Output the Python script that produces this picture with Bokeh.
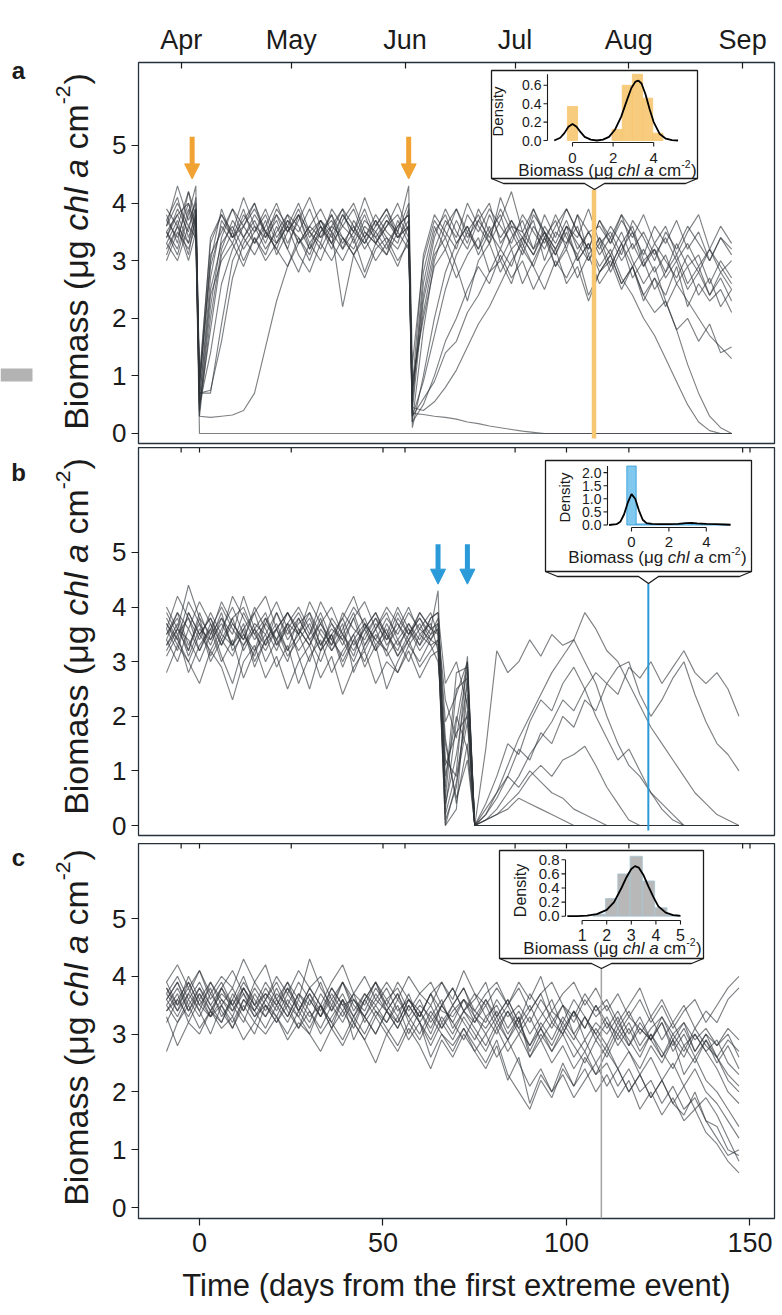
from math import pi
from bokeh.plotting import figure
from bokeh.models import Range1d, FixedTicker, Label, Arrow, NormalHead
from bokeh.layouts import column, row
from bokeh.embed import file_html
from bokeh.resources import INLINE

# ---------------- data ----------------
MONTH_NAMES = ["Apr", "May", "Jun", "Jul", "Aug", "Sep"]
MONTH_DAYS = [-5, 25, 56, 86, 117, 148]
DAY_TICKS = [0, 50, 100, 150]
BIOMASS_TICKS = [0, 1, 2, 3, 4, 5]

ARROW_DAYS_A = [-2, 57]
ARROW_DAYS_B = [65, 73]
SAMPLE_DAY_A = 107.5
SAMPLE_DAY_B = 122.3
SAMPLE_DAY_C = 109.5

# panel a: two extreme events (day 0 and day 58)
DAYS_A = [-9, -6, -3, -1, 0, 3, 6, 9, 12, 15, 18, 21, 24, 27, 30, 33, 36, 39, 42, 45,
          48, 51, 54, 57, 58, 61, 64, 67, 70, 73, 76, 79, 82, 85, 88, 91, 94, 97, 100,
          103, 106, 109, 112, 115, 118, 121, 124, 127, 130, 133, 136, 139, 142, 145]
A01 = [3.4, 3.9, 3.5, 4.1,
       0.9, 2.9, 3.6, 3.3, 3.8, 3.5, 3.9, 3.4, 3.7, 3.3, 3.6, 3.9, 3.5, 3.2, 3.7, 3.4, 3.8, 3.5, 3.3, 3.9,
       0.5,
       2.6, 3.5, 3.8, 3.3, 3.6, 3.1, 3.5, 3.8, 3.2, 3.4, 3.7, 3.0, 3.5, 3.3, 3.8, 3.1, 3.4, 2.9, 3.3, 3.6,
       3.0, 3.2, 2.8, 3.3, 2.9, 3.1, 2.6, 3.0, 2.7]
A02 = [3.8, 3.3, 4.2, 3.6,
       0.4, 2.2, 3.4, 3.9, 3.6, 4.0, 3.4, 3.7, 3.2, 3.8, 3.5, 3.3, 3.9, 3.6, 3.4, 3.8, 3.3, 3.6, 4.0, 3.5,
       0.2,
       1.8, 3.0, 3.6, 3.9, 3.4, 3.7, 4.0, 3.3, 3.6, 3.2, 3.8, 3.5, 3.1, 3.6, 3.4, 3.9, 3.3, 3.5, 3.1, 3.7,
       3.4, 3.0, 3.5, 3.2, 3.6, 3.3, 3.0, 3.4, 3.1]
A03 = [3.0, 3.5, 3.2, 3.6,
       0.7, 0.7, 1.9, 3.0, 3.4, 3.1, 3.5, 3.2, 2.9, 3.4, 3.1, 3.6, 3.3, 3.0, 3.4, 2.8, 3.3, 3.1, 3.5, 3.2,
       0.9,
       2.0, 2.9, 3.2, 2.7, 3.1, 3.4, 2.8, 3.0, 2.6, 3.2, 2.9, 2.5, 3.0, 2.7, 3.1, 2.4, 2.8, 3.0, 2.5, 2.9,
       2.3, 2.7, 2.4, 2.9, 2.2, 2.6, 2.3, 2.5, 2.1]
A04 = [3.6, 4.3, 3.7, 4.0,
       1.0, 3.3, 3.8, 3.5, 4.1, 3.6, 3.4, 3.9, 3.6, 4.0, 3.5, 3.7, 3.4, 3.8, 3.5, 4.1, 3.6, 3.9, 3.5, 4.3,
       1.2,
       3.0, 3.7, 3.4, 3.9, 3.5, 3.8, 3.3, 4.1, 3.6, 3.5, 3.9, 3.4, 3.7, 3.2, 3.8, 3.5, 3.6, 3.3, 3.7, 3.4,
       3.8, 3.3, 3.6, 3.1, 3.5, 3.8, 3.2, 3.6, 3.3]
A05 = [3.3, 3.7, 3.1, 3.8,
       0.6, 2.5, 3.3, 3.6, 3.2, 3.5, 3.8, 3.3, 3.6, 3.4, 3.0, 3.5, 3.7, 3.3, 3.6, 3.2, 3.5, 3.8, 3.4, 3.6,
       0.3,
       0.6, 0.9, 1.4, 1.6, 2.1, 2.4, 2.8, 3.2, 2.9, 3.4, 3.1, 3.5, 3.2, 3.6, 3.0, 3.3, 2.8, 3.1, 2.6, 2.9,
       2.4, 2.1, 2.3, 1.8, 2.0, 1.6, 1.9, 1.4, 1.5]
A06 = [3.5, 3.2, 3.9, 3.4,
       0, 0, 0, 0, 0, 0, 0, 0, 0, 0, 0, 0, 0, 0, 0, 0, 0, 0, 0, 0,
       0,
       0, 0, 0, 0, 0, 0, 0, 0, 0, 0, 0, 0, 0, 0, 0, 0, 0, 0, 0, 0,
       0, 0, 0, 0, 0, 0, 0, 0, 0]
A07 = [3.7, 3.4, 4.0, 3.5,
       0.3, 0.28, 0.3, 0.32, 0.4, 0.7, 1.5, 2.3, 2.9, 3.3, 3.5, 3.2, 3.6, 3.4, 3.1, 3.5, 3.3, 3.7, 3.4, 3.6,
       0.35,
       0.33, 0.3, 0.28, 0.25, 0.2, 0.17, 0.13, 0.1, 0.07, 0.04, 0.02, 0, 0, 0, 0, 0, 0, 0, 0, 0,
       0, 0, 0, 0, 0, 0, 0, 0, 0]
A08 = [3.4, 3.8, 3.3, 3.7,
       0.7, 0.75, 1.6, 2.7, 3.3, 3.6, 3.2, 3.5, 3.8, 3.3, 3.6, 3.4, 3.8, 3.2, 3.5, 3.3, 3.7, 3.4, 3.2, 3.6,
       0.45,
       0.4, 0.55, 0.8, 1.1, 1.5, 1.9, 2.2, 2.6, 3.0, 3.3, 2.9, 3.4, 3.1, 3.5, 3.0, 3.3, 2.9, 3.2, 2.7, 2.4,
       2.0, 1.7, 1.3, 0.9, 0.5, 0.2, 0.05, 0.0, 0.0]
A09 = [3.9, 3.6, 4.2, 3.8,
       0.8, 3.0, 3.9, 3.4, 3.7, 4.0, 3.5, 3.8, 3.3, 3.7, 4.1, 3.6, 3.3, 3.8, 3.5, 3.9, 3.4, 3.7, 3.5, 4.0,
       0.7,
       2.4, 3.4, 3.9, 3.5, 3.2, 3.7, 3.4, 3.9, 3.5, 3.1, 3.6, 3.3, 3.8, 3.4, 3.1, 3.5, 3.2, 3.6, 3.3, 2.9,
       3.2, 2.8, 3.1, 2.6, 2.3, 2.0, 1.7, 1.5, 1.3]
A10 = [3.2, 3.6, 3.0, 3.5,
       0.5, 1.8, 3.1, 3.5, 3.0, 3.4, 3.1, 3.6, 3.2, 2.8, 3.3, 3.0, 3.5, 2.2, 3.1, 3.4, 3.0, 3.3, 2.9, 3.4,
       0.8,
       2.1, 3.1, 3.4, 2.9, 2.3, 3.0, 3.3, 2.8, 3.2, 2.6, 3.0, 3.4, 2.9, 3.2, 2.7, 3.1, 2.6, 2.9, 3.3, 2.7,
       3.0, 2.5, 2.8, 3.1, 2.6, 2.9, 2.4, 2.8, 2.5]
A11 = [3.6, 4.0, 3.6, 3.9,
       0.3, 2.0, 3.2, 3.7, 3.4, 3.8, 3.5, 3.2, 3.7, 3.5, 3.9, 3.4, 3.6, 3.9, 3.3, 3.7, 3.5, 3.2, 3.6, 3.8,
       0.1,
       1.0, 2.0, 2.8, 3.3, 3.6, 3.2, 3.8, 3.4, 3.7, 3.3, 3.9, 3.5, 3.2, 3.6, 3.3, 3.0, 3.4, 3.1, 3.5, 3.0,
       2.6, 2.9, 2.3, 1.8, 1.2, 0.7, 0.3, 0.1, 0.0]
A12 = [3.5, 3.1, 3.8, 4.3,
       0.6, 2.7, 3.7, 3.4, 3.9, 3.3, 3.6, 4.0, 3.5, 3.8, 3.3, 3.6, 3.2, 3.7, 4.0, 3.5, 3.3, 3.6, 3.8, 3.4,
       0.4,
       2.3, 3.2, 3.7, 3.4, 4.0, 3.6, 3.3, 3.7, 4.2, 3.5, 3.2, 3.8, 3.4, 3.9, 3.5, 3.2, 3.7, 3.3, 3.8, 3.5,
       3.1, 3.6, 3.3, 3.7, 3.2, 3.5, 3.0, 3.4, 3.2]
A13 = [3.7, 4.1, 3.4, 3.8,
       0.8, 3.1, 3.5, 3.9, 3.4, 3.7, 3.3, 3.8, 3.5, 3.9, 3.4, 3.7, 3.3, 3.6, 3.9, 3.4, 3.7, 3.3, 3.6, 3.8,
       0.6,
       2.8, 3.6, 3.2, 3.7, 3.3, 3.9, 3.5, 3.2, 3.7, 3.4, 3.1, 3.6, 3.3, 3.7, 3.2, 3.5, 3.1, 3.4, 3.0, 3.3,
       2.9, 3.3, 3.0, 2.7, 3.1, 2.8, 3.2, 2.9, 2.6]
A14 = [3.1, 3.6, 3.3, 3.9,
       0.5, 1.4, 2.6, 3.2, 3.6, 3.3, 3.7, 3.1, 3.5, 3.8, 3.2, 3.5, 3.8, 3.4, 3.2, 3.6, 3.4, 3.1, 3.7, 3.3,
       0.3,
       0.9, 1.7, 2.5, 3.1, 3.5, 3.2, 3.6, 3.0, 3.4, 3.7, 3.2, 3.5, 2.9, 3.3, 3.6, 3.0, 3.3, 2.8, 3.2, 3.5,
       2.9, 3.2, 2.7, 3.0, 2.5, 2.8, 2.4, 2.7, 2.3]
A15 = [3.5, 3.8, 4.0, 3.6,
       0.9, 3.4, 3.8, 3.4, 3.6, 3.9, 3.5, 3.3, 3.8, 3.6, 3.2, 3.7, 3.5, 3.9, 3.6, 3.3, 3.6, 3.9, 3.4, 3.7,
       0.8,
       3.1, 3.8, 3.5, 3.2, 3.8, 3.5, 3.9, 3.6, 3.3, 3.8, 3.5, 3.2, 3.6, 3.9, 3.5, 3.2, 3.7, 3.4, 3.8, 3.2,
       3.5, 3.1, 3.4, 3.0, 3.3, 2.9, 3.2, 2.8, 3.0]
A16 = [3.3, 3.0, 3.6, 3.4,
       0.4, 2.4, 3.0, 3.3, 2.9, 3.4, 3.0, 3.3, 3.6, 3.1, 2.8, 3.3, 3.0, 3.4, 3.1, 2.7, 3.2, 3.4, 3.0, 3.3,
       0.2,
       0.5, 1.0, 1.6, 2.0, 2.5, 2.9, 2.6, 3.1, 2.7, 3.0, 2.5, 2.9, 3.2, 2.6, 2.9, 2.3, 2.8, 3.1, 2.6, 2.9,
       2.4, 2.7, 2.2, 2.6, 2.9, 2.4, 2.7, 2.2, 2.5]
LINES_A = [A01, A02, A03, A04, A05, A06, A07, A08, A09, A10, A11, A12, A13, A14, A15, A16]

# panel b: two events close together (day 66 and day 74)
DAYS_B = [-9, -6, -3, 0, 3, 6, 9, 12, 15, 18, 21, 24, 27, 30, 33, 36, 39, 42, 45, 48,
          51, 54, 57, 60, 63, 65, 67, 70, 73, 75, 78, 81, 84, 87, 90, 93, 96, 99, 102,
          105, 108, 111, 114, 117, 120, 123, 126, 129, 132, 135, 138, 141, 144, 147]
B01 = [3.6, 3.2, 3.9, 3.5, 3.8, 3.3, 3.7, 3.4, 4.0, 3.6, 3.2, 3.7, 3.5, 3.9, 3.3, 3.6, 3.4, 3.8, 3.2, 3.6,
       3.9, 3.4, 3.7, 3.3, 3.6,
       3.7, 1.9, 2.4, 3.0, 0.0,
       1.4, 3.2, 2.8, 3.0, 3.4, 3.1, 3.5, 3.3, 3.4, 3.0, 2.6, 2.0, 1.5, 1.1, 0.9, 0.6, 0.4, 0.2, 0.0, 0.0,
       0, 0, 0, 0]
B02 = [3.3, 3.7, 3.1, 3.6, 3.4, 3.9, 3.2, 3.5, 3.1, 3.7, 3.4, 3.0, 3.6, 3.3, 3.8, 3.2, 3.5, 3.1, 3.7, 3.4,
       3.2, 3.8, 3.5, 3.9, 3.6,
       4.3, 0.4, 1.3, 2.6, 0.0,
       0.2, 0.6, 1.1, 1.6, 2.0, 2.4, 2.8, 3.1, 3.4, 3.9, 3.6, 3.2, 3.0, 2.6, 2.2, 1.8, 1.5, 1.2, 0.9, 0.6,
       0.4, 0.2, 0.1, 0.0]
B03 = [3.8, 3.4, 4.1, 3.7, 3.3, 3.8, 3.5, 4.2, 3.6, 3.3, 3.9, 3.5, 3.8, 3.4, 3.7, 3.3, 3.9, 3.6, 3.4, 3.8,
       3.5, 3.2, 3.7, 3.4, 3.8,
       3.9, 1.2, 0.9, 2.1, 0.0,
       0.1, 0.3, 0.6, 0.9, 1.3, 1.6, 1.9, 2.3, 2.1, 2.5, 2.8, 2.6, 2.9, 3.0, 2.4, 2.0, 2.3, 2.7, 3.0, 2.4,
       1.9, 1.5, 1.3, 1.0]
B04 = [3.5, 3.9, 3.3, 3.7, 3.0, 3.4, 3.8, 3.2, 3.6, 3.9, 3.3, 3.6, 3.2, 3.5, 3.9, 3.4, 3.1, 3.5, 3.8, 3.3,
       3.6, 3.1, 3.5, 3.8, 3.4,
       3.6, 2.3, 1.6, 2.9, 0.0,
       0.2, 0.5, 0.9, 1.4, 1.2, 1.7, 1.5, 2.0, 1.8, 2.3, 2.1, 2.6, 2.4, 2.9, 2.7, 3.0, 2.6, 2.9, 3.2, 2.8,
       2.6, 2.8, 2.5, 2.0]
B05 = [3.4, 3.0, 3.6, 3.2, 3.7, 3.1, 2.6, 3.3, 3.6, 3.0, 3.4, 3.7, 3.1, 2.5, 3.2, 3.5, 2.9, 3.4, 3.0, 3.5,
       3.2, 2.8, 3.3, 3.0, 3.4,
       3.3, 0.0, 0.8, 1.9, 0.0,
       0.1, 0.2, 0.4, 0.6, 0.9, 1.1, 0.9, 1.2, 1.3, 1.45, 1.1, 0.7, 0.4, 0.1, 0, 0, 0, 0, 0, 0,
       0, 0, 0, 0]
B06 = [3.7, 3.3, 3.9, 3.5, 3.2, 3.6, 4.0, 3.5, 3.2, 3.8, 3.4, 3.9, 3.6, 3.3, 3.7, 4.0, 3.5, 3.2, 3.6, 3.9,
       3.4, 3.7, 3.3, 3.6, 3.9,
       3.5, 0.9, 2.0, 1.4, 0.0,
       0.3, 0.6, 0.9, 0.7, 1.0, 0.8, 0.6, 0.5, 0.3, 0.2, 0.1, 0, 0, 0, 0, 0, 0, 0, 0, 0,
       0, 0, 0, 0]
B07 = [3.1, 3.5, 2.8, 3.3, 3.6, 3.0, 3.4, 2.7, 3.2, 3.5, 2.9, 3.3, 2.6, 3.1, 3.4, 2.8, 3.2, 3.5, 2.9, 3.3,
       2.5, 3.0, 3.4, 2.9, 3.2,
       3.4, 0.2, 1.0, 3.1, 0.0,
       0, 0, 0, 0, 0, 0, 0, 0, 0, 0, 0, 0, 0, 0, 0, 0, 0, 0, 0, 0,
       0, 0, 0, 0]
B08 = [4.0, 3.6, 4.4, 3.8, 3.5, 4.1, 3.7, 3.4, 3.9, 4.2, 3.6, 3.9, 3.5, 4.1, 3.7, 3.4, 3.8, 4.2, 3.6, 3.9,
       3.5, 4.0, 3.6, 3.3, 3.8,
       3.9, 2.6, 3.0, 2.2, 0.0,
       0, 0, 0, 0, 0, 0, 0, 0, 0, 0, 0, 0, 0, 0, 0, 0, 0, 0, 0, 0,
       0, 0, 0, 0]
B09 = [3.5, 3.8, 3.2, 3.9, 3.4, 3.7, 3.3, 3.9, 3.5, 3.2, 3.6, 3.9, 3.5, 3.8, 3.3, 3.7, 3.4, 3.0, 3.5, 3.8,
       3.3, 3.6, 4.0, 3.5, 3.7,
       3.2, 0.5, 2.5, 2.7, 0.0,
       0, 0, 0, 0, 0, 0, 0, 0, 0, 0, 0, 0, 0, 0, 0, 0, 0, 0, 0, 0,
       0, 0, 0, 0]
B10 = [3.2, 3.6, 3.4, 3.0, 3.5, 3.8, 3.3, 3.6, 2.9, 3.4, 3.7, 3.2, 3.5, 3.0, 3.6, 3.3, 3.7, 2.8, 3.3, 3.6,
       3.1, 3.4, 3.0, 3.5, 3.3,
       3.0, 1.5, 0.5, 1.2, 0.0,
       0.4, 0.9, 1.5, 1.3, 1.9, 2.3, 2.1, 2.6, 2.9, 2.5, 2.0, 1.6, 1.2, 1.4, 1.0, 0.6, 0.3, 0.1, 0, 0,
       0, 0, 0, 0]
B11 = [3.6, 4.2, 3.8, 3.4, 3.9, 3.5, 4.2, 3.8, 3.4, 3.7, 4.1, 3.6, 3.9, 3.5, 4.1, 3.7, 3.3, 3.8, 4.1, 3.6,
       4.0, 3.7, 3.4, 3.9, 3.6,
       3.5, 0.1, 0.7, 2.4, 0.0,
       0, 0, 0, 0, 0, 0, 0, 0, 0, 0, 0, 0, 0, 0, 0, 0, 0, 0, 0, 0,
       0, 0, 0, 0]
B12 = [2.8, 3.3, 3.0, 2.6, 3.2, 2.9, 2.3, 3.0, 3.3, 2.7, 3.1, 2.5, 3.0, 3.3, 2.7, 3.1, 2.4, 2.9, 3.2, 2.6,
       3.0, 2.8, 3.2, 2.7, 3.1,
       3.2, 1.1, 1.7, 2.0, 0.0,
       0, 0, 0, 0, 0, 0, 0, 0, 0, 0, 0, 0, 0, 0, 0, 0, 0, 0, 0, 0,
       0, 0, 0, 0]
B13 = [3.4, 3.9, 3.6, 4.1, 3.7, 3.3, 3.8, 4.0, 3.5, 3.8, 3.3, 3.7, 4.0, 3.6, 3.2, 3.8, 3.5, 3.9, 3.3, 3.7,
       3.4, 3.9, 3.5, 3.8, 3.5,
       3.8, 0.3, 1.9, 3.0, 0.0,
       0, 0, 0, 0, 0, 0, 0, 0, 0, 0, 0, 0, 0, 0, 0, 0, 0, 0, 0, 0,
       0, 0, 0, 0]
B14 = [3.7, 3.4, 3.0, 3.5, 3.8, 3.4, 3.1, 3.6, 3.9, 3.3, 3.6, 3.2, 3.8, 3.4, 3.0, 3.5, 3.8, 3.3, 3.6, 3.2,
       3.7, 3.3, 3.6, 3.2, 3.5,
       3.6, 0.7, 2.8, 2.9, 0.0,
       0, 0, 0, 0, 0, 0, 0, 0, 0, 0, 0, 0, 0, 0, 0, 0, 0, 0, 0, 0,
       0, 0, 0, 0]
B15 = [3.9, 3.5, 3.8, 3.2, 3.6, 4.0, 3.6, 3.3, 3.7, 3.5, 3.9, 3.4, 3.7, 3.9, 3.5, 3.2, 3.6, 4.0, 3.7, 3.4,
       3.8, 3.5, 3.9, 3.6, 3.4,
       3.7, 1.6, 0.4, 1.5, 0.0,
       0.1, 0.2, 0.3, 0.5, 0.4, 0.3, 0.2, 0.1, 0, 0, 0, 0, 0, 0, 0, 0, 0, 0, 0, 0,
       0, 0, 0, 0]
B16 = [3.3, 3.6, 3.2, 3.8, 3.1, 3.5, 3.3, 3.7, 3.0, 3.4, 3.6, 3.1, 3.4, 3.7, 3.2, 3.5, 3.0, 3.4, 3.7, 3.2,
       3.5, 3.1, 3.4, 3.7, 3.3,
       3.4, 0.0, 0.3, 2.8, 0.0,
       0, 0, 0, 0, 0, 0, 0, 0, 0, 0, 0, 0, 0, 0, 0, 0, 0, 0, 0, 0,
       0, 0, 0, 0]
LINES_B = [B01, B02, B03, B04, B05, B06, B07, B08, B09, B10, B11, B12, B13, B14, B15, B16]

# panel c: no extreme event
DAYS_C = [-9, -6, -3, 0, 3, 6, 9, 12, 15, 18, 21, 24, 27, 30, 33, 36, 39, 42, 45, 48,
          51, 54, 57, 60, 63, 66, 69, 72, 75, 78, 81, 84, 87, 90, 93, 96, 99, 102, 105, 108,
          111, 114, 117, 120, 123, 126, 129, 132, 135, 138, 141, 144, 147]
C01 = [3.7, 3.4, 3.9, 3.5, 3.8, 3.3, 3.6, 4.0, 3.5, 3.7, 3.4, 3.8, 3.5, 3.2, 3.7, 3.4, 3.9, 3.5, 3.3, 3.6,
       3.4, 3.7, 3.2, 3.5, 3.3, 3.6, 3.1, 3.4, 3.7, 3.3, 3.5, 3.1, 3.4, 3.0, 3.3, 3.6, 3.1, 3.4, 2.9, 3.2,
       3.0, 3.3, 2.8, 3.1, 2.9, 3.2, 2.7, 3.0, 2.6, 2.9, 2.5, 2.8, 2.4]
C02 = [3.9, 4.2, 3.8, 4.1, 3.7, 4.0, 3.8, 4.3, 3.9, 3.6, 4.0, 3.7, 4.1, 3.8, 3.5, 3.9, 4.2, 3.7, 4.0, 3.6,
       3.9, 3.6, 4.0, 3.7, 3.5, 3.9, 3.6, 4.1, 3.7, 3.5, 3.8, 3.5, 3.9, 3.6, 4.0, 3.4, 3.7, 3.9, 3.5, 3.8,
       3.4, 3.7, 3.3, 3.6, 3.2, 3.5, 3.1, 3.4, 3.6, 3.2, 3.5, 3.8, 4.0]
C03 = [3.3, 2.8, 3.2, 3.0, 3.4, 3.1, 3.3, 2.9, 3.2, 3.0, 3.3, 2.9, 3.2, 3.0, 2.7, 3.1, 2.8, 3.2, 2.9, 2.5,
       3.0, 2.7, 3.1, 2.8, 2.4, 2.9, 2.6, 3.0, 2.7, 2.4, 2.8, 2.2, 2.6, 1.8, 2.3, 2.0, 2.5, 2.1, 2.4, 2.0,
       2.3, 1.9, 2.2, 1.7, 2.0, 1.6, 1.9, 1.5, 1.7, 1.3, 1.1, 0.8, 0.6]
C04 = [3.6, 3.9, 3.5, 3.8, 3.4, 3.7, 3.5, 3.9, 3.6, 3.3, 3.7, 3.5, 3.9, 3.6, 3.3, 3.8, 3.5, 3.2, 3.6, 3.9,
       3.5, 3.2, 3.6, 3.4, 3.0, 3.5, 3.2, 3.6, 3.3, 3.1, 3.4, 3.0, 3.3, 2.7, 3.1, 2.8, 3.2, 2.9, 3.3, 3.0,
       2.7, 3.1, 2.8, 3.2, 2.9, 2.6, 3.0, 2.7, 3.1, 2.8, 2.6, 2.9, 2.7]
C05 = [3.4, 3.7, 3.2, 3.6, 3.3, 3.5, 3.1, 3.6, 3.3, 3.5, 3.2, 3.6, 3.3, 3.0, 3.5, 3.2, 3.6, 2.9, 3.3, 3.0,
       3.4, 3.1, 3.5, 3.2, 2.9, 3.3, 3.0, 3.4, 3.1, 2.8, 3.2, 2.9, 3.3, 2.6, 3.0, 2.7, 3.1, 2.8, 2.5, 2.9,
       2.6, 3.0, 2.7, 2.4, 2.8, 2.5, 2.9, 2.3, 2.6, 2.2, 2.0, 1.7, 1.4]
C06 = [3.8, 3.5, 4.0, 3.6, 3.9, 3.5, 3.8, 3.4, 3.9, 4.2, 3.6, 3.9, 3.4, 3.8, 4.0, 3.6, 3.3, 3.7, 3.5, 3.9,
       3.6, 3.8, 3.4, 3.7, 3.9, 3.5, 3.8, 3.4, 3.6, 3.9, 3.3, 3.6, 3.2, 3.7, 3.4, 3.1, 3.5, 3.2, 3.6, 3.3,
       3.5, 3.1, 3.4, 3.0, 3.3, 2.9, 3.2, 2.8, 3.0, 2.7, 2.9, 2.5, 2.3]
C07 = [3.5, 3.2, 3.6, 3.3, 3.7, 3.4, 3.1, 3.5, 3.2, 3.6, 3.3, 3.0, 3.4, 3.1, 3.5, 3.2, 2.9, 3.3, 3.0, 3.4,
       3.1, 2.8, 3.2, 2.9, 3.3, 3.0, 2.7, 3.1, 2.8, 2.5, 2.9, 2.3, 2.0, 1.7, 2.2, 1.9, 2.4, 2.1, 2.6, 2.3,
       2.7, 2.4, 2.0, 2.3, 1.9, 2.2, 1.8, 1.6, 2.0, 1.5, 1.2, 0.9, 1.0]
C08 = [3.7, 4.0, 3.6, 3.9, 3.5, 3.8, 4.1, 3.7, 3.4, 3.8, 3.5, 3.9, 3.6, 4.3, 3.8, 3.5, 3.9, 3.6, 3.4, 3.8,
       3.5, 3.9, 3.6, 3.3, 3.7, 3.9, 3.5, 3.8, 3.4, 3.7, 3.9, 3.5, 3.8, 3.4, 3.7, 3.9, 3.5, 3.3, 3.7, 3.4,
       3.6, 3.2, 3.5, 3.8, 3.3, 3.6, 3.2, 3.5, 3.1, 3.4, 3.2, 3.6, 3.8]
C09 = [3.6, 3.3, 3.7, 3.4, 3.0, 3.5, 3.2, 3.6, 3.4, 3.1, 3.5, 3.2, 3.6, 3.3, 3.5, 3.1, 3.4, 3.7, 3.2, 3.5,
       3.2, 3.5, 3.0, 3.4, 3.1, 3.5, 3.2, 2.9, 3.3, 3.0, 3.3, 2.9, 3.2, 2.8, 3.1, 2.7, 3.0, 2.6, 2.9, 2.5,
       2.8, 2.4, 2.7, 2.3, 2.6, 2.2, 2.5, 2.1, 2.4, 2.0, 1.8, 1.5, 1.2]
C10 = [3.2, 3.6, 3.3, 3.7, 3.4, 3.8, 3.5, 3.2, 3.7, 3.4, 3.8, 3.4, 3.1, 3.6, 3.3, 3.7, 3.4, 3.1, 3.6, 3.3,
       3.6, 3.3, 3.7, 3.2, 3.5, 3.1, 3.4, 3.6, 3.2, 3.5, 3.1, 3.4, 3.0, 3.3, 2.9, 3.2, 3.5, 3.0, 3.3, 2.9,
       3.2, 2.8, 3.1, 2.7, 3.0, 2.6, 2.9, 3.2, 2.7, 3.0, 2.6, 2.2, 2.0]
C11 = [3.5, 3.8, 3.4, 3.7, 3.3, 3.6, 3.4, 3.8, 3.5, 3.3, 3.6, 3.3, 3.7, 3.4, 3.1, 3.5, 3.2, 3.6, 3.3, 3.0,
       3.4, 3.1, 3.5, 3.2, 2.8, 3.2, 2.9, 3.3, 3.0, 2.7, 3.1, 2.7, 3.0, 2.6, 2.9, 2.5, 2.8, 2.4, 2.7, 2.3,
       2.5, 2.1, 2.4, 2.0, 2.2, 1.8, 2.1, 1.7, 1.9, 1.5, 1.4, 1.0, 0.9]
C12 = [3.9, 3.5, 3.8, 3.4, 3.9, 3.6, 3.3, 3.8, 3.5, 3.9, 3.6, 3.3, 3.7, 3.5, 3.9, 3.4, 3.7, 3.3, 3.6, 3.9,
       3.4, 3.7, 3.3, 3.6, 3.2, 3.5, 3.8, 3.4, 3.2, 3.6, 3.2, 3.5, 3.1, 3.4, 3.7, 3.2, 3.0, 3.4, 3.1, 3.5,
       3.1, 3.4, 3.0, 3.3, 2.9, 3.2, 2.8, 3.1, 2.7, 3.0, 2.8, 3.1, 2.9]
C13 = [3.6, 3.9, 3.4, 3.8, 3.5, 3.2, 3.7, 3.4, 3.8, 3.5, 3.3, 3.7, 3.4, 3.8, 3.5, 3.1, 3.6, 3.3, 3.7, 3.4,
       3.2, 3.6, 3.3, 3.0, 3.4, 3.1, 3.5, 3.2, 2.9, 3.3, 3.0, 3.4, 3.1, 2.8, 3.2, 2.9, 3.3, 3.0, 2.7, 3.1,
       2.8, 3.2, 2.9, 2.6, 3.0, 2.7, 2.4, 2.8, 2.5, 2.9, 2.6, 2.3, 2.1]
C14 = [3.4, 3.6, 3.9, 3.5, 3.3, 3.8, 3.4, 3.7, 3.3, 3.6, 3.9, 3.5, 3.3, 3.7, 3.4, 3.8, 3.5, 3.6, 3.3, 3.7,
       3.4, 3.2, 3.6, 3.3, 3.7, 3.4, 3.3, 3.6, 3.4, 3.2, 3.6, 3.3, 3.5, 3.2, 3.6, 3.3, 3.0, 3.4, 3.1, 3.5,
       3.2, 3.0, 3.3, 3.1, 2.9, 3.3, 3.0, 3.2, 2.9, 3.1, 2.8, 3.0, 2.6]
C15 = [3.8, 3.4, 3.7, 4.1, 3.6, 3.9, 3.5, 3.8, 3.4, 3.7, 3.5, 3.8, 3.4, 3.7, 3.3, 3.6, 3.9, 3.4, 3.7, 3.5,
       3.8, 3.4, 3.6, 3.3, 3.7, 3.2, 3.5, 3.8, 3.3, 3.6, 3.3, 3.6, 3.2, 3.5, 3.1, 3.4, 3.2, 3.6, 3.3, 3.0,
       3.3, 2.9, 3.2, 2.8, 3.1, 3.3, 2.9, 2.6, 3.0, 2.7, 2.4, 2.0, 1.8]
C16 = [2.7, 3.2, 3.5, 3.1, 3.4, 3.2, 3.6, 3.3, 3.0, 3.5, 3.2, 3.5, 3.1, 3.4, 3.0, 3.3, 3.6, 3.2, 2.9, 3.3,
       3.0, 3.3, 2.9, 3.2, 2.6, 3.0, 2.8, 3.1, 2.7, 3.0, 2.6, 2.9, 2.5, 2.1, 2.4, 2.0, 2.3, 1.9, 2.2, 2.5,
       2.1, 2.4, 2.0, 2.3, 1.9, 2.2, 1.8, 2.1, 1.7, 1.9, 1.6, 1.2, 0.8]
LINES_C = [C01, C02, C03, C04, C05, C06, C07, C08, C09, C10, C11, C12, C13, C14, C15, C16]

# inset histograms (bin left edge, bin right edge, density) and density curves
HIST_A_LEFT = [-0.25, 1.95, 2.45, 2.95, 3.45, 3.95]
HIST_A_RIGHT = [0.25, 2.45, 2.95, 3.45, 3.95, 4.45]
HIST_A_DENS = [0.37, 0.12, 0.60, 0.72, 0.46, 0.08]
DENS_A_X = [-0.9, -0.6, -0.4, -0.2, 0.0, 0.2, 0.4, 0.6, 0.9, 1.2, 1.5, 1.8, 2.1, 2.4, 2.7, 2.9,
            3.1, 3.25, 3.4, 3.6, 3.8, 4.0, 4.3, 4.6, 4.9, 5.2]
DENS_A_Y = [0.0, 0.03, 0.08, 0.15, 0.18, 0.15, 0.09, 0.04, 0.01, 0.0, 0.01, 0.04, 0.12, 0.26, 0.45,
            0.57, 0.64, 0.65, 0.62, 0.5, 0.34, 0.2, 0.07, 0.02, 0.005, 0.0]

HIST_B_LEFT = [-0.25, 0.25, 0.75, 1.25, 1.75, 2.25, 2.75, 3.25, 3.75, 4.25, 4.75]
HIST_B_RIGHT = [0.25, 0.75, 1.25, 1.75, 2.25, 2.75, 3.25, 3.75, 4.25, 4.75, 5.25]
HIST_B_DENS = [2.25, 0.04, 0.02, 0.02, 0.02, 0.03, 0.06, 0.04, 0.03, 0.02, 0.01]
DENS_B_X = [-1.2, -0.8, -0.6, -0.4, -0.2, 0.0, 0.2, 0.4, 0.6, 0.8, 1.1, 1.5, 2.0, 2.5, 2.9, 3.2,
            3.5, 4.0, 4.5, 5.0, 5.3]
DENS_B_Y = [0.0, 0.03, 0.12, 0.4, 0.85, 1.18, 1.0, 0.55, 0.2, 0.07, 0.04, 0.03, 0.03, 0.04, 0.07,
            0.08, 0.06, 0.04, 0.03, 0.02, 0.01]

HIST_C_LEFT = [1.45, 1.95, 2.45, 2.95, 3.45, 3.95, 4.45]
HIST_C_RIGHT = [1.95, 2.45, 2.95, 3.45, 3.95, 4.45, 4.95]
HIST_C_DENS = [0.03, 0.25, 0.60, 0.85, 0.50, 0.12, 0.02]
DENS_C_X = [0.4, 0.8, 1.2, 1.6, 2.0, 2.3, 2.6, 2.8, 3.0, 3.15, 3.3, 3.5, 3.7, 3.9, 4.1, 4.4, 4.7, 5.0]
DENS_C_Y = [0.0, 0.002, 0.008, 0.03, 0.09, 0.2, 0.4, 0.55, 0.67, 0.71, 0.69, 0.58, 0.42, 0.27, 0.14,
            0.05, 0.015, 0.005]

INSET_A_YTICKS = [0.0, 0.2, 0.4, 0.6]
INSET_B_YTICKS = [0.0, 0.5, 1.0, 1.5, 2.0]
INSET_C_YTICKS = [0.0, 0.2, 0.4, 0.6, 0.8]
INSET_A_XTICKS = [0, 2, 4]
INSET_B_XTICKS = [0, 2, 4]
INSET_C_XTICKS = [1, 2, 3, 4, 5]

# ---------------- style / layout (page pixels) ----------------
FONT = "Liberation Sans"
INK = "#1b1b1b"
FRAME_COL = "#26313b"
LINE_COL = "#2f3439"
ORANGE = "#f0a232"
ORANGE_BAR = "#f6c670"
BLUE = "#2b9ad8"
BLUE_BAR = "#72c2ec"
GREY_BAR = "#b4b4b4"

GUTTER_W = 100
FRAME_LEFT = 138
FRAME_W = 636
X_START, X_END = -16.62, 156.68
TOTAL_H = 1308

PANEL_A = dict(top=62, h=381, y0=-0.174, y1=6.441, bt=62, bb=4, letter="a", letter_xy=(18, 70), ytitle_cy=251)
PANEL_B = dict(top=447, h=388, y0=-0.183, y1=6.923, bt=0, bb=8, letter="b", letter_xy=(18, 472), ytitle_cy=636)
PANEL_C = dict(top=843, h=375, y0=-0.19, y1=6.298, bt=0, bb=90, letter="c", letter_xy=(18, 857), ytitle_cy=1027)

INSET_A = dict(box=(491, 697, 70, 178), ox=572, sx=20.3, oy=140, sy=92.0, yax=547, ytop=0.72,
               xax_y=142, xspan=(0, 4), xlab_y=157, dens=(497, 111), title=(607, 170), tip=(594, 189),
               tick_fs=14, title_fs=17)
INSET_B = dict(box=(545, 751, 460, 571), ox=631, sx=18.7, oy=524.5, sy=26.2, yax=607, ytop=2.25,
               xax_y=527, xspan=(0, 4), xlab_y=541, dens=(564, 497), title=(657, 557), tip=(648, 583),
               tick_fs=14, title_fs=17)
INSET_C = dict(box=(499, 703, 850, 958), ox=557, sx=24.6, oy=915.7, sy=70.5, yax=565, ytop=0.8,
               xax_y=920, xspan=(1, 5), xlab_y=934, dens=(520, 890), title=(612, 948), tip=(601, 968),
               tick_fs=15, title_fs=17)

WIDTHS = {' ': 278, '(': 333, ')': 333, '-': 333, '.': 278, 'B': 667, 'a': 556, 'c': 500, 'g': 556,
          'h': 556, 'i': 222, 'l': 222, 'm': 833, 'o': 556, 's': 500, 'μ': 576}
TITLE_PIECES = [("Biomass (μg", "normal", 1.0, 0.0, 0.278),
                ("chl a", "italic", 1.0, 0.0, 0.278),
                ("cm", "normal", 1.0, 0.0, 0.0),
                ("-2", "normal", 0.62, 0.36, 0.03),
                (")", "normal", 1.0, 0.0, 0.0)]


def text_w(s, size):
    return sum(WIDTHS.get(ch, 556) for ch in s) / 1000.0 * size


def label(p, x, y, text, size, xr="fx", yr="fy", align="center", baseline="middle", angle=0.0,
          style="normal", color=INK):
    p.add_layout(Label(x=x, y=y, x_range_name=xr, y_range_name=yr, text=text, angle=angle,
                       text_font=FONT, text_font_size=f"{size:.1f}px", text_font_style=style,
                       text_align=align, text_baseline=baseline, text_color=color))


def rich_title(p, cx, cy, size, vertical, xr="fx", yr="fy"):
    total = sum(text_w(t, size * sc) + gap * size for t, st, sc, r, gap in TITLE_PIECES)
    pos = -total / 2.0
    for t, st, sc, r, gap in TITLE_PIECES:
        s = size * sc
        if vertical:
            label(p, cx - r * size, cy - pos, t, s, xr=xr, yr=yr, align="left", angle=pi / 2, style=st)
        else:
            label(p, cx + pos, cy - r * size, t, s, xr=xr, yr=yr, align="left", style=st)
        pos += text_w(t, s) + gap * size


# left gutter holding the panel letters and the y-axis titles (page coordinates)
gutter = figure(frame_width=GUTTER_W, frame_height=TOTAL_H, x_range=Range1d(0, GUTTER_W),
                y_range=Range1d(TOTAL_H, 0), x_axis_location=None, y_axis_location=None,
                min_border_left=0, min_border_right=0, min_border_top=0, min_border_bottom=0,
                toolbar_location=None, output_backend="svg", outline_line_color=None,
                background_fill_color="white", border_fill_color="white")
gutter.grid.visible = False
gutter.quad(left=[0], right=[32], top=[368], bottom=[381], fill_color="#b3b3b3", line_color=None)
for cfg in (PANEL_A, PANEL_B, PANEL_C):
    lx, ly = cfg["letter_xy"]
    label(gutter, lx, ly, cfg["letter"], 24, xr="default", yr="default", style="bold")
    rich_title(gutter, 75, cfg["ytitle_cy"], 34, True, xr="default", yr="default")


def make_panel(cfg, xloc, inset):
    top, h = cfg["top"], cfg["h"]
    p = figure(frame_width=FRAME_W, frame_height=h,
               x_range=Range1d(X_START, X_END), y_range=Range1d(cfg["y0"], cfg["y1"]),
               x_axis_location=xloc, y_axis_location="left",
               min_border_left=FRAME_LEFT - GUTTER_W, min_border_right=6,
               min_border_top=cfg["bt"], min_border_bottom=cfg["bb"],
               toolbar_location=None, output_backend="svg",
               background_fill_color="white", border_fill_color="white")
    p.grid.visible = False
    p.outline_line_color = FRAME_COL
    p.outline_line_width = 1.3
    ox = inset["ox"] - FRAME_LEFT
    oy = inset["oy"] - top
    p.extra_x_ranges = {"fx": Range1d(0, FRAME_W),
                        "ix": Range1d(-ox / inset["sx"], (FRAME_W - ox) / inset["sx"])}
    p.extra_y_ranges = {"fy": Range1d(h, 0),
                        "iy": Range1d((oy - h) / inset["sy"], oy / inset["sy"])}
    ya = p.yaxis[0]
    ya.ticker = FixedTicker(ticks=BIOMASS_TICKS)
    ya.minor_tick_line_color = None
    ya.major_tick_out = 7
    ya.major_tick_in = 0
    ya.major_tick_line_color = INK
    ya.major_tick_line_width = 1.2
    ya.axis_line_color = None
    ya.major_label_text_font = FONT
    ya.major_label_text_font_size = "26px"
    ya.major_label_text_color = INK
    ya.major_label_standoff = 5
    return p


def inner_ticks(p):
    ticks = sorted(MONTH_DAYS + DAY_TICKS)
    p.segment(x0=ticks, y0=[0] * len(ticks), x1=ticks, y1=[5] * len(ticks),
              y_range_name="fy", line_color=INK, line_width=1.2)


def draw_lines(p, days, lines):
    xs = [days[:len(v)] for v in lines]
    ys = [v[:len(days)] for v in lines]
    p.multi_line(xs=xs, ys=ys, line_color=LINE_COL, line_alpha=0.62, line_width=1.15)


def draw_inset(p, cfg, ins, hl, hr, hh, dx, dy, yticks, xticks, fill, edge, alpha, tip_bottom, vcol,
               vwidth, sample_day):
    top = cfg["top"]
    L, R, T, B = ins["box"]
    tx, ty = ins["tip"]
    p.segment(x0=[sample_day], y0=[tip_bottom - top], x1=[sample_day], y1=[ty - top],
              y_range_name="fy", line_color=vcol, line_width=vwidth)
    p.quad(left=[L - FRAME_LEFT], right=[R - FRAME_LEFT], top=[T - top], bottom=[B - top],
           x_range_name="fx", y_range_name="fy", fill_color="white", line_color=INK, line_width=1.3)
    bx = [L, L + 12, tx - 10, tx, tx + 10, R - 12, R]
    by = [B, B + 5, B + 5, ty, B + 5, B + 5, B]
    p.line([v - FRAME_LEFT for v in bx], [v - top for v in by], x_range_name="fx", y_range_name="fy",
           line_color=INK, line_width=1.3)
    p.quad(left=hl, right=hr, bottom=[0] * len(hh), top=hh, x_range_name="ix", y_range_name="iy",
           fill_color=fill, fill_alpha=alpha, line_color=edge, line_width=0.8)
    p.line(dx, dy, x_range_name="ix", y_range_name="iy", line_color="black", line_width=1.8)
    yax = ins["yax"] - FRAME_LEFT
    p.segment(x0=[yax], y0=[0], x1=[yax], y1=[ins["ytop"]], x_range_name="fx", y_range_name="iy",
              line_color=INK, line_width=1.1)
    p.segment(x0=[yax - 4] * len(yticks), y0=yticks, x1=[yax] * len(yticks), y1=yticks,
              x_range_name="fx", y_range_name="iy", line_color=INK, line_width=1.1)
    for t in yticks:
        label(p, yax - 6, t, f"{t:.1f}", ins["tick_fs"], xr="fx", yr="iy", align="right")
    xay = ins["xax_y"] - top
    p.segment(x0=[ins["xspan"][0]], y0=[xay], x1=[ins["xspan"][1]], y1=[xay],
              x_range_name="ix", y_range_name="fy", line_color=INK, line_width=1.1)
    p.segment(x0=xticks, y0=[xay] * len(xticks), x1=xticks, y1=[xay + 4] * len(xticks),
              x_range_name="ix", y_range_name="fy", line_color=INK, line_width=1.1)
    for t in xticks:
        label(p, t, ins["xlab_y"] - top, str(t), ins["tick_fs"] + 1, xr="ix", yr="fy")
    dxp, dyp = ins["dens"]
    label(p, dxp - FRAME_LEFT, dyp - top, "Density", ins["tick_fs"] + 1, angle=pi / 2)
    cx, cy = ins["title"]
    rich_title(p, cx - FRAME_LEFT, cy - top, ins["title_fs"], False)


def draw_arrows(p, days, color):
    for d in days:
        p.add_layout(Arrow(end=NormalHead(size=15, fill_color=color, line_color=color),
                           x_start=d, y_start=5.15, x_end=d, y_end=4.42,
                           line_color=color, line_width=5))


# ---- panel a ----
pa = make_panel(PANEL_A, "above", INSET_A)
xa = pa.xaxis[0]
xa.ticker = FixedTicker(ticks=MONTH_DAYS)
xa.major_label_overrides = {d: n for d, n in zip(MONTH_DAYS, MONTH_NAMES)}
xa.major_tick_in = 6
xa.major_tick_out = 0
xa.major_tick_line_color = INK
xa.major_tick_line_width = 1.2
xa.minor_tick_line_color = None
xa.axis_line_color = None
xa.major_label_text_font = FONT
xa.major_label_text_font_size = "27px"
xa.major_label_text_color = INK
xa.major_label_standoff = 8
draw_lines(pa, DAYS_A, LINES_A)
draw_inset(pa, PANEL_A, INSET_A, HIST_A_LEFT, HIST_A_RIGHT, HIST_A_DENS, DENS_A_X, DENS_A_Y,
           INSET_A_YTICKS, INSET_A_XTICKS, ORANGE_BAR, ORANGE_BAR, 0.9, 438, ORANGE_BAR, 4.5, SAMPLE_DAY_A)
draw_arrows(pa, ARROW_DAYS_A, ORANGE)

# ---- panel b ----
pb = make_panel(PANEL_B, None, INSET_B)
inner_ticks(pb)
draw_lines(pb, DAYS_B, LINES_B)
draw_inset(pb, PANEL_B, INSET_B, HIST_B_LEFT, HIST_B_RIGHT, HIST_B_DENS, DENS_B_X, DENS_B_Y,
           INSET_B_YTICKS, INSET_B_XTICKS, BLUE_BAR, BLUE, 0.9, 830, BLUE, 2.0, SAMPLE_DAY_B)
draw_arrows(pb, ARROW_DAYS_B, BLUE)

# ---- panel c ----
pc = make_panel(PANEL_C, "below", INSET_C)
inner_ticks(pc)
xc = pc.xaxis[0]
xc.ticker = FixedTicker(ticks=DAY_TICKS)
xc.major_tick_out = 7
xc.major_tick_in = 0
xc.major_tick_line_color = INK
xc.major_tick_line_width = 1.2
xc.minor_tick_line_color = None
xc.axis_line_color = None
xc.major_label_text_font = FONT
xc.major_label_text_font_size = "27px"
xc.major_label_text_color = INK
xc.major_label_standoff = 7
xc.axis_label = "Time (days from the first extreme event)"
xc.axis_label_text_font = FONT
xc.axis_label_text_font_size = "31px"
xc.axis_label_text_font_style = "normal"
xc.axis_label_text_color = INK
xc.axis_label_standoff = 13
draw_lines(pc, DAYS_C, LINES_C)
draw_inset(pc, PANEL_C, INSET_C, HIST_C_LEFT, HIST_C_RIGHT, HIST_C_DENS, DENS_C_X, DENS_C_Y,
           INSET_C_YTICKS, INSET_C_XTICKS, GREY_BAR, "#a8c6d6", 0.95, 1218, "#a3a3a3", 1.5, SAMPLE_DAY_C)

layout = row(gutter, column(pa, pb, pc, spacing=0), spacing=0)
open("out.html", "w").write(file_html(layout, INLINE))
